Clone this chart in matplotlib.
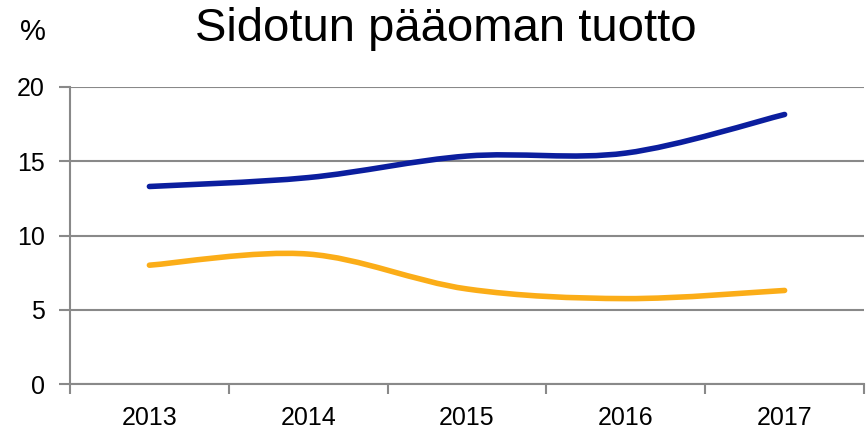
import matplotlib
matplotlib.use("Agg")
import matplotlib.pyplot as plt
import numpy as np
from matplotlib.path import Path
from matplotlib.patches import PathPatch

plt.rcParams['font.family'] = ['Liberation Sans', 'DejaVu Sans']

years = ['2013', '2014', '2015', '2016', '2017']
series_blue = [13.3, 13.9, 15.35, 15.55, 18.15]
series_orange = [8.0, 8.75, 6.4, 5.75, 6.3]
yticks = [0, 5, 10, 15, 20]
title = 'Sidotun pääoman tuotto'
unit = '%'

def smooth_path(xs, ys):
    pts = np.column_stack([xs, ys]).astype(float)
    n = len(pts)
    verts = [pts[0]]
    codes = [Path.MOVETO]
    for i in range(n - 1):
        p0 = pts[i - 1] if i > 0 else pts[i]
        p1 = pts[i]
        p2 = pts[i + 1]
        p3 = pts[i + 2] if i + 2 < n else pts[i + 1]
        c1 = p1 + (p2 - p0) / 6.0
        c2 = p2 - (p3 - p1) / 6.0
        verts += [c1, c2, p2]
        codes += [Path.CURVE4] * 3
    return Path(verts, codes)

fig = plt.figure(figsize=(8.68, 4.30), dpi=100)
ax = fig.add_axes([70/868, 46/430, 794/868, 297/430])

x = np.arange(len(years))
grid_c = '#898989'
for col, vals in [('#0b1e9e', series_blue), ('#fbad18', series_orange)]:
    patch = PathPatch(smooth_path(x, vals), facecolor='none', edgecolor=col,
                      lw=4, capstyle='round', joinstyle='round', zorder=3)
    ax.add_patch(patch)

ax.set_xlim(-0.5, len(years) - 0.5)
ax.set_ylim(0, 20)
ax.set_yticks(yticks)
ax.set_yticklabels([str(v) for v in yticks])
ax.set_xticks(x)
ax.set_xticklabels(years)
ax.set_xticks(np.arange(-0.5, len(years)), minor=True)
ax.tick_params(axis='x', which='major', length=0, pad=16, labelsize=18)
ax.tick_params(axis='x', which='minor', length=7, width=1.5, color=grid_c)
ax.tick_params(axis='y', length=8, width=1.5, color=grid_c, pad=10, labelsize=18)
ax.yaxis.grid(True, color=grid_c, lw=1.5)
ax.set_axisbelow(True)
for s in ['top', 'right']:
    ax.spines[s].set_visible(False)
for s in ['left', 'bottom']:
    ax.spines[s].set_color(grid_c)
    ax.spines[s].set_linewidth(1.5)

fig.text(445.5/868, 1 - 41/430, title, ha='center', va='baseline', fontsize=34)
fig.text(33/868, 1 - 40/430, unit, ha='center', va='baseline', fontsize=21)

fig.savefig('out.png', dpi=100)
